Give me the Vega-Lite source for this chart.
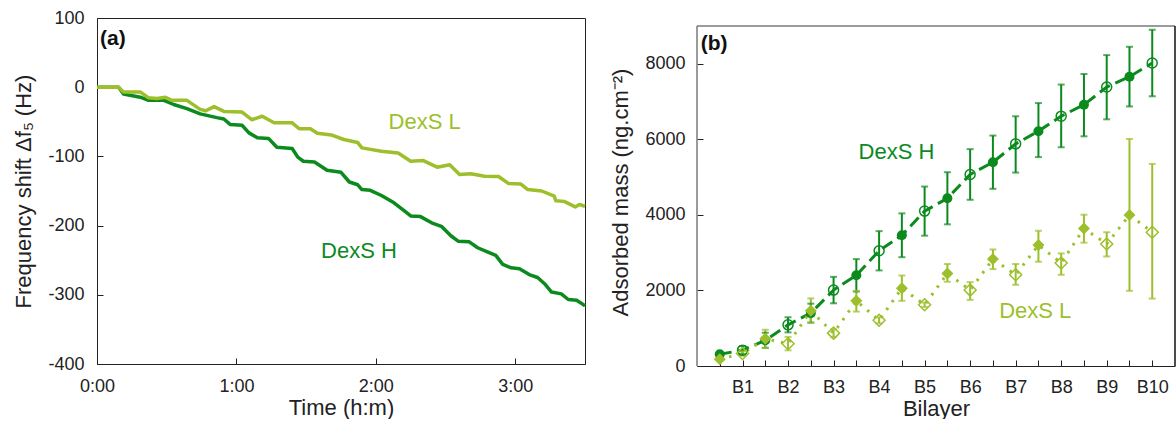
{
  "$schema": "https://vega.github.io/schema/vega-lite/v6.json",
  "padding": {"left": 12, "top": 8, "right": 0, "bottom": 0},
  "spacing": 112,
  "bounds": "flush",
  "config": {
    "font": "Liberation Sans",
    "view": {"stroke": "#222"},
    "axis": {
      "labelFont": "Liberation Sans", "titleFont": "Liberation Sans",
      "labelFontSize": 18, "titleFontSize": 22, "titleFontWeight": "normal",
      "labelColor": "#222", "titleColor": "#222",
      "domainColor": "#222", "tickColor": "#222",
      "tickSize": -6, "grid": false, "labelFlush": false, "labelOverlap": false
    }
  },
  "datasets": {
    "fq": [
      {"s":"DexS H","t":0,"v":0},{"s":"DexS H","t":9.3,"v":0},{"s":"DexS H","t":11.4,"v":-9.7},{"s":"DexS H","t":18.6,"v":-14.5},{"s":"DexS H","t":22.2,"v":-19},{"s":"DexS H","t":28.8,"v":-19},{"s":"DexS H","t":33,"v":-25},{"s":"DexS H","t":38.7,"v":-31},{"s":"DexS H","t":44.4,"v":-38.5},{"s":"DexS H","t":51.6,"v":-44},{"s":"DexS H","t":54.6,"v":-46},{"s":"DexS H","t":57.4,"v":-54},{"s":"DexS H","t":62.4,"v":-55},{"s":"DexS H","t":65.4,"v":-66},{"s":"DexS H","t":69,"v":-73},{"s":"DexS H","t":73.8,"v":-74},{"s":"DexS H","t":77.4,"v":-86.7},{"s":"DexS H","t":84,"v":-88.6},{"s":"DexS H","t":86.4,"v":-101},{"s":"DexS H","t":88.8,"v":-107},{"s":"DexS H","t":93.6,"v":-108},{"s":"DexS H","t":99,"v":-120},{"s":"DexS H","t":105,"v":-123},{"s":"DexS H","t":108.6,"v":-137},{"s":"DexS H","t":112.2,"v":-141},{"s":"DexS H","t":114,"v":-148},{"s":"DexS H","t":117.6,"v":-149},{"s":"DexS H","t":122.4,"v":-156.5},{"s":"DexS H","t":127.8,"v":-167},{"s":"DexS H","t":132,"v":-178},{"s":"DexS H","t":135,"v":-186},{"s":"DexS H","t":139.2,"v":-187},{"s":"DexS H","t":144,"v":-196},{"s":"DexS H","t":148.2,"v":-201},{"s":"DexS H","t":152.4,"v":-215},{"s":"DexS H","t":155.4,"v":-222.5},{"s":"DexS H","t":160.2,"v":-223.5},{"s":"DexS H","t":163.8,"v":-232},{"s":"DexS H","t":168,"v":-238},{"s":"DexS H","t":171.6,"v":-243},{"s":"DexS H","t":174.6,"v":-256},{"s":"DexS H","t":178.2,"v":-261},{"s":"DexS H","t":181.8,"v":-262.5},{"s":"DexS H","t":186,"v":-270.7},{"s":"DexS H","t":189.6,"v":-275},{"s":"DexS H","t":192.6,"v":-284},{"s":"DexS H","t":195.6,"v":-296},{"s":"DexS H","t":199.8,"v":-298.7},{"s":"DexS H","t":202.8,"v":-306.8},{"s":"DexS H","t":206.4,"v":-308},{"s":"DexS H","t":208.2,"v":-311.7},{"s":"DexS H","t":210,"v":-316},
      {"s":"DexS L","t":0,"v":0},{"s":"DexS L","t":9.3,"v":0},{"s":"DexS L","t":11.4,"v":-6.8},{"s":"DexS L","t":18.6,"v":-6.8},{"s":"DexS L","t":22.2,"v":-15.4},{"s":"DexS L","t":25.8,"v":-16.4},{"s":"DexS L","t":29.4,"v":-14.5},{"s":"DexS L","t":32.2,"v":-19},{"s":"DexS L","t":38.7,"v":-19},{"s":"DexS L","t":44.4,"v":-32},{"s":"DexS L","t":46.8,"v":-34},{"s":"DexS L","t":50.4,"v":-28},{"s":"DexS L","t":54.6,"v":-35},{"s":"DexS L","t":62.4,"v":-36},{"s":"DexS L","t":66.6,"v":-47},{"s":"DexS L","t":71.1,"v":-42},{"s":"DexS L","t":76.2,"v":-51.5},{"s":"DexS L","t":84,"v":-51.5},{"s":"DexS L","t":87,"v":-60},{"s":"DexS L","t":91.8,"v":-60},{"s":"DexS L","t":94.8,"v":-66.5},{"s":"DexS L","t":100.8,"v":-69},{"s":"DexS L","t":106.2,"v":-75.6},{"s":"DexS L","t":112.2,"v":-80},{"s":"DexS L","t":114,"v":-87.7},{"s":"DexS L","t":122.4,"v":-92.5},{"s":"DexS L","t":129.6,"v":-95},{"s":"DexS L","t":135,"v":-107},{"s":"DexS L","t":140.4,"v":-106},{"s":"DexS L","t":146.4,"v":-115.6},{"s":"DexS L","t":151.8,"v":-112},{"s":"DexS L","t":156,"v":-126},{"s":"DexS L","t":160.8,"v":-125},{"s":"DexS L","t":166.8,"v":-128.6},{"s":"DexS L","t":172.8,"v":-129},{"s":"DexS L","t":177,"v":-139},{"s":"DexS L","t":182.4,"v":-140},{"s":"DexS L","t":185.4,"v":-148},{"s":"DexS L","t":191.4,"v":-150},{"s":"DexS L","t":196.8,"v":-157.5},{"s":"DexS L","t":197.4,"v":-164},{"s":"DexS L","t":201,"v":-165},{"s":"DexS L","t":205.8,"v":-173},{"s":"DexS L","t":207.6,"v":-169.5},{"s":"DexS L","t":210,"v":-172}
    ],
    "bl": [
      {"s":"DexS H","b":0.5,"f":1,"m":310,"lo":260,"hi":360},
      {"s":"DexS H","b":1,"f":0,"m":420,"lo":310,"hi":530},
      {"s":"DexS H","b":1.5,"f":1,"m":680,"lo":480,"hi":880},
      {"s":"DexS H","b":2,"f":0,"m":1090,"lo":890,"hi":1290},
      {"s":"DexS H","b":2.5,"f":1,"m":1400,"lo":1150,"hi":1650},
      {"s":"DexS H","b":3,"f":0,"m":2010,"lo":1660,"hi":2360},
      {"s":"DexS H","b":3.5,"f":1,"m":2400,"lo":1970,"hi":2830},
      {"s":"DexS H","b":4,"f":0,"m":3050,"lo":2530,"hi":3570},
      {"s":"DexS H","b":4.5,"f":1,"m":3460,"lo":2880,"hi":4040},
      {"s":"DexS H","b":5,"f":0,"m":4100,"lo":3450,"hi":4750},
      {"s":"DexS H","b":5.5,"f":1,"m":4440,"lo":3750,"hi":5130},
      {"s":"DexS H","b":6,"f":0,"m":5070,"lo":4400,"hi":5740},
      {"s":"DexS H","b":6.5,"f":1,"m":5394,"lo":4690,"hi":6100},
      {"s":"DexS H","b":7,"f":0,"m":5880,"lo":5120,"hi":6610},
      {"s":"DexS H","b":7.5,"f":1,"m":6216,"lo":5530,"hi":6960},
      {"s":"DexS H","b":8,"f":0,"m":6614,"lo":5790,"hi":7450},
      {"s":"DexS H","b":8.5,"f":1,"m":6916,"lo":6080,"hi":7730},
      {"s":"DexS H","b":9,"f":0,"m":7384,"lo":6530,"hi":8230},
      {"s":"DexS H","b":9.5,"f":1,"m":7659,"lo":6870,"hi":8450},
      {"s":"DexS H","b":10,"f":0,"m":8020,"lo":7140,"hi":8900},
      {"s":"DexS L","b":0.5,"f":1,"m":180,"lo":140,"hi":220},
      {"s":"DexS L","b":1,"f":0,"m":330,"lo":270,"hi":390},
      {"s":"DexS L","b":1.5,"f":1,"m":720,"lo":480,"hi":960},
      {"s":"DexS L","b":2,"f":0,"m":590,"lo":415,"hi":770},
      {"s":"DexS L","b":2.5,"f":1,"m":1460,"lo":1140,"hi":1790},
      {"s":"DexS L","b":3,"f":0,"m":870,"lo":770,"hi":970},
      {"s":"DexS L","b":3.5,"f":1,"m":1725,"lo":1440,"hi":1990},
      {"s":"DexS L","b":4,"f":0,"m":1210,"lo":1130,"hi":1290},
      {"s":"DexS L","b":4.5,"f":1,"m":2060,"lo":1725,"hi":2395},
      {"s":"DexS L","b":5,"f":0,"m":1620,"lo":1560,"hi":1680},
      {"s":"DexS L","b":5.5,"f":1,"m":2450,"lo":2230,"hi":2700},
      {"s":"DexS L","b":6,"f":0,"m":2010,"lo":1750,"hi":2220},
      {"s":"DexS L","b":6.5,"f":1,"m":2830,"lo":2565,"hi":3085},
      {"s":"DexS L","b":7,"f":0,"m":2414,"lo":2150,"hi":2700},
      {"s":"DexS L","b":7.5,"f":1,"m":3200,"lo":2760,"hi":3580},
      {"s":"DexS L","b":8,"f":0,"m":2725,"lo":2415,"hi":2980},
      {"s":"DexS L","b":8.5,"f":1,"m":3640,"lo":3265,"hi":4005},
      {"s":"DexS L","b":9,"f":0,"m":3230,"lo":2900,"hi":3540},
      {"s":"DexS L","b":9.5,"f":1,"m":4000,"lo":1990,"hi":6010},
      {"s":"DexS L","b":10,"f":0,"m":3540,"lo":1785,"hi":5350}
    ]
  },
  "hconcat": [
    {
      "width": 488,
      "height": 346,
      "view": {"stroke": "#222"},
      "layer": [
        {
          "data": {"name": "fq"},
          "mark": {"type": "line", "strokeWidth": 3.5, "strokeJoin": "round"},
          "encoding": {
            "x": {"field": "t", "type": "quantitative", "scale": {"domain": [0, 210], "nice": false, "zero": false},
                  "axis": {"values": [0, 60, 120, 180], "labelExpr": "floor(datum.value/60) + ':00'", "title": "Time (h:m)", "labelPadding": 19, "titlePadding": 2}},
            "y": {"field": "v", "type": "quantitative", "scale": {"domain": [-400, 100], "nice": false},
                  "axis": {"values": [-400, -300, -200, -100, 0, 100], "labelExpr": "'' + datum.value", "title": "Frequency shift Δf₅ (Hz)", "labelPadding": 19, "titlePadding": 12}},
            "color": {"field": "s", "type": "nominal", "scale": {"domain": ["DexS H", "DexS L"], "range": ["#0b8a1e", "#9cbf2b"]}, "legend": null}
          }
        },
        {
          "data": {"values": [{"t": 141, "v": -51, "s": "DexS L"}, {"t": 112.7, "v": -237, "s": "DexS H"}]},
          "mark": {"type": "text", "fontSize": 22},
          "encoding": {
            "x": {"field": "t", "type": "quantitative"},
            "y": {"field": "v", "type": "quantitative"},
            "text": {"field": "s"},
            "color": {"field": "s", "type": "nominal", "legend": null}
          }
        },
        {
          "data": {"values": [{"t": 1.3, "v": 70, "label": "(a)"}]},
          "mark": {"type": "text", "fontSize": 21, "fontWeight": "bold", "align": "left", "color": "#111"},
          "encoding": {
            "x": {"field": "t", "type": "quantitative"},
            "y": {"field": "v", "type": "quantitative"},
            "text": {"field": "label"}
          }
        }
      ]
    },
    {
      "width": 478,
      "height": 348,
      "view": {"stroke": null},
      "resolve": {"axis": {"x": "independent"}},
      "layer": [
        {
          "data": {"name": "bl"},
          "mark": {"type": "line", "strokeWidth": 3},
          "encoding": {
            "x": {"field": "b", "type": "quantitative", "scale": {"domain": [0, 10.5], "nice": false, "zero": false},
                  "axis": {"values": [0.5,1,1.5,2,2.5,3,3.5,4,4.5,5,5.5,6,6.5,7,7.5,8,8.5,9,9.5,10], "labelExpr": "datum.value % 1 == 0 ? 'B' + datum.value : ''", "labelOverlap": false, "title": "Bilayer", "labelPadding": 18, "titlePadding": 2}},
            "y": {"field": "m", "type": "quantitative", "scale": {"domain": [0, 9211.8], "nice": false},
                  "axis": {"values": [0, 2000, 4000, 6000, 8000], "format": "d", "domain": false, "title": "Adsorbed mass (ng.cm⁻²)", "labelPadding": 18, "titlePadding": 12}},
            "color": {"field": "s", "type": "nominal", "legend": null},
            "strokeDash": {"field": "s", "type": "nominal", "scale": {"domain": ["DexS H", "DexS L"], "range": [[12, 6], [2.5, 7]]}, "legend": null}
          }
        },
        {
          "data": {"values": [{"x0": 0, "x1": 10.5, "y0": 9000, "y1": 9000}, {"x0": 0, "x1": 0, "y0": 0, "y1": 9000}]},
          "mark": {"type": "rule", "strokeWidth": 1.5, "color": "#7a7a7a"},
          "encoding": {
            "x": {"field": "x0", "type": "quantitative", "axis": null},
            "x2": {"field": "x1"},
            "y": {"field": "y0", "type": "quantitative"},
            "y2": {"field": "y1"}
          }
        },
        {
          "data": {"values": [{"x0": 10.5, "y0": 0, "y1": 9000}]},
          "mark": {"type": "rule", "strokeWidth": 1.5, "color": "#111"},
          "encoding": {
            "x": {"field": "x0", "type": "quantitative", "axis": null},
            "y": {"field": "y0", "type": "quantitative"},
            "y2": {"field": "y1"}
          }
        },
        {
          "data": {"name": "bl"},
          "mark": {"type": "rule", "strokeWidth": 2},
          "encoding": {
            "x": {"field": "b", "type": "quantitative", "axis": null},
            "y": {"field": "lo", "type": "quantitative"},
            "y2": {"field": "hi"},
            "color": {"field": "s", "type": "nominal", "legend": null}
          }
        },
        {
          "data": {"name": "bl"},
          "mark": {"type": "tick", "orient": "horizontal", "size": 7, "thickness": 2},
          "encoding": {
            "x": {"field": "b", "type": "quantitative", "axis": null},
            "y": {"field": "lo", "type": "quantitative"},
            "color": {"field": "s", "type": "nominal", "legend": null}
          }
        },
        {
          "data": {"name": "bl"},
          "mark": {"type": "tick", "orient": "horizontal", "size": 7, "thickness": 2},
          "encoding": {
            "x": {"field": "b", "type": "quantitative", "axis": null},
            "y": {"field": "hi", "type": "quantitative"},
            "color": {"field": "s", "type": "nominal", "legend": null}
          }
        },
        {
          "data": {"name": "bl"},
          "transform": [{"filter": "datum.f == 1"}],
          "mark": {"type": "point", "filled": true, "opacity": 1},
          "encoding": {
            "x": {"field": "b", "type": "quantitative", "axis": null},
            "y": {"field": "m", "type": "quantitative"},
            "color": {"field": "s", "type": "nominal", "legend": null},
            "shape": {"field": "s", "type": "nominal", "scale": {"domain": ["DexS H", "DexS L"], "range": ["circle", "diamond"]}, "legend": null},
            "size": {"field": "s", "type": "nominal", "scale": {"domain": ["DexS H", "DexS L"], "range": [100, 144]}, "legend": null}
          }
        },
        {
          "data": {"name": "bl"},
          "transform": [{"filter": "datum.f == 0"}],
          "mark": {"type": "point", "filled": false, "strokeWidth": 1.5, "opacity": 1},
          "encoding": {
            "x": {"field": "b", "type": "quantitative", "axis": null},
            "y": {"field": "m", "type": "quantitative"},
            "color": {"field": "s", "type": "nominal", "legend": null},
            "shape": {"field": "s", "type": "nominal", "legend": null},
            "size": {"field": "s", "type": "nominal", "legend": null}
          }
        },
        {
          "data": {"values": [{"b": 4.38, "m": 5677, "s": "DexS H"}, {"b": 7.43, "m": 1459, "s": "DexS L"}]},
          "mark": {"type": "text", "fontSize": 22},
          "encoding": {
            "x": {"field": "b", "type": "quantitative", "axis": null},
            "y": {"field": "m", "type": "quantitative"},
            "text": {"field": "s"},
            "color": {"field": "s", "type": "nominal", "legend": null}
          }
        },
        {
          "data": {"values": [{"b": 0.08, "m": 8516, "label": "(b)"}]},
          "mark": {"type": "text", "fontSize": 21, "fontWeight": "bold", "align": "left", "color": "#111"},
          "encoding": {
            "x": {"field": "b", "type": "quantitative", "axis": null},
            "y": {"field": "m", "type": "quantitative"},
            "text": {"field": "label"}
          }
        }
      ]
    }
  ]
}
